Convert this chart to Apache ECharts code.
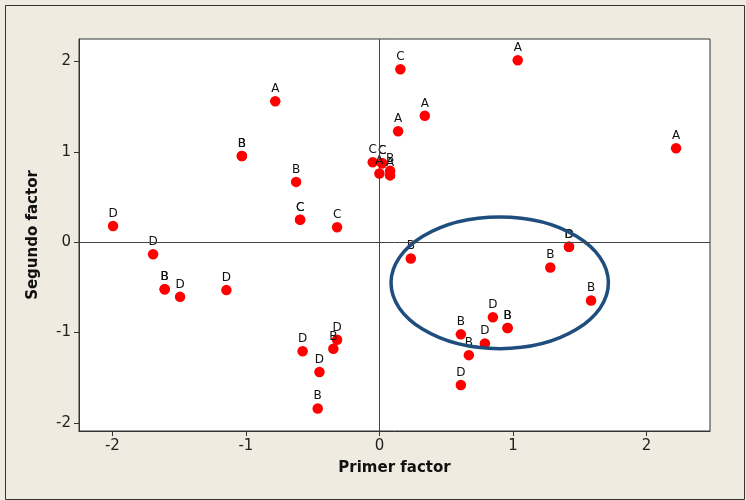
<!DOCTYPE html>
<html>
<head>
<meta charset="utf-8">
<script src="https://cdn.jsdelivr.net/npm/echarts@6/dist/echarts.min.js"></script>
<style>
html,body{margin:0;padding:0;background:#EFEBE1;}
#chart{width:746px;height:500px;}
</style>
</head>
<body>
<div id="chart"></div>
<script>
// Point data
const xValues = [-1.995,-1.695,-1.608,-1.608,-1.493,-1.146,-0.78,-1.03,-1.03,-0.624,-0.594,-0.594,-0.317,
  -0.575,-0.345,-0.317,-0.449,-0.462,-0.05,0.02,0.02,0.00,0.08,0.08,
  0.157,1.036,0.34,0.14,2.222,
  0.235,1.42,1.42,1.28,1.585,0.85,0.96,0.96,0.61,0.79,0.67,0.61];
const yValues = [0.18,-0.133,-0.52,-0.52,-0.605,-0.53,1.56,0.955,0.955,0.668,0.25,0.25,0.166,
  -1.207,-1.18,-1.08,-1.436,-1.84,0.885,0.875,0.875,0.76,0.79,0.74,
  1.916,2.015,1.40,1.229,1.041,
  -0.18,-0.05,-0.05,-0.28,-0.645,-0.83,-0.95,-0.95,-1.02,-1.12,-1.25,-1.58];
const pointLabels = ['D','D','B','B','D','D','A','B','B','B','C','C','C',
  'D','B','D','D','B','C','C','C','A','B','A',
  'C','A','A','A','A',
  'B','D','D','B','B','D','B','B','B','D','B','D'];
const xTicks = [-2,-1,0,1,2];
const yTicks = [-2,-1,0,1,2];
// Highlight ellipse annotation (centre and radii in data units)
const ellipseCenter = [0.901,-0.449];
const ellipseRadii = [0.814,0.729];

const pts = xValues.map((x,i)=>[x,yValues[i],pointLabels[i]]);

const chart = echarts.init(document.getElementById('chart'));
const fontFam = '"DejaVu Sans", Verdana, sans-serif';
chart.setOption({
  backgroundColor:'#EFEBE1',
  animation:false,
  graphic:[{type:'rect',left:3,top:3,shape:{width:739,height:494},style:{fill:'none',stroke:'#333',lineWidth:1},silent:true,z:-1}],
  grid:{left:79,right:36,top:39,bottom:69,show:true,backgroundColor:'#fff',borderColor:'#333',borderWidth:1},
  xAxis:{type:'value',min:-2.25,max:2.476,
    name:'Primer factor',nameLocation:'middle',nameGap:30,
    nameTextStyle:{fontFamily:fontFam,fontWeight:'bold',fontSize:15,color:'#111'},
    axisLine:{show:true,onZero:false,lineStyle:{color:'#333'}},
    axisTick:{show:true,length:5,lineStyle:{color:'#333'},customValues:xTicks},
    axisLabel:{fontFamily:fontFam,fontSize:15,color:'#222',margin:8,customValues:xTicks},
    splitLine:{show:false}},
  yAxis:{type:'value',min:-2.09,max:2.25,
    name:'Segundo factor',nameLocation:'middle',nameGap:38,
    nameTextStyle:{fontFamily:fontFam,fontWeight:'bold',fontSize:15,color:'#111'},
    axisLine:{show:true,onZero:false,lineStyle:{color:'#333'}},
    axisTick:{show:true,length:5,lineStyle:{color:'#333'},customValues:yTicks},
    axisLabel:{fontFamily:fontFam,fontSize:15,color:'#222',margin:8,customValues:yTicks},
    splitLine:{show:false}},
  series:[
    {type:'scatter',data:pts,symbol:'circle',symbolSize:10.5,
     itemStyle:{color:'#FF0000',opacity:1},
     label:{show:true,position:'top',distance:1,formatter:p=>p.data[2],fontFamily:fontFam,fontSize:12,color:'#111'},
     emphasis:{disabled:true},
     markLine:{silent:true,symbol:'none',label:{show:false},lineStyle:{color:'#444',width:1,type:'solid'},
       data:[{xAxis:0},{yAxis:0}]},
     z:3},
    {type:'custom',data:[ellipseCenter],silent:true,z:4,
     renderItem:function(params,api){
       const c = api.coord([ellipseCenter[0],ellipseCenter[1]]);
       const e = api.coord([ellipseCenter[0]+ellipseRadii[0],ellipseCenter[1]+ellipseRadii[1]]);
       return {type:'ellipse',shape:{cx:c[0],cy:c[1],rx:Math.abs(e[0]-c[0]),ry:Math.abs(c[1]-e[1])},
         style:{fill:'none',stroke:'#1F4E7E',lineWidth:3.5}};
     }}
  ]
});
</script>
</body>
</html>
